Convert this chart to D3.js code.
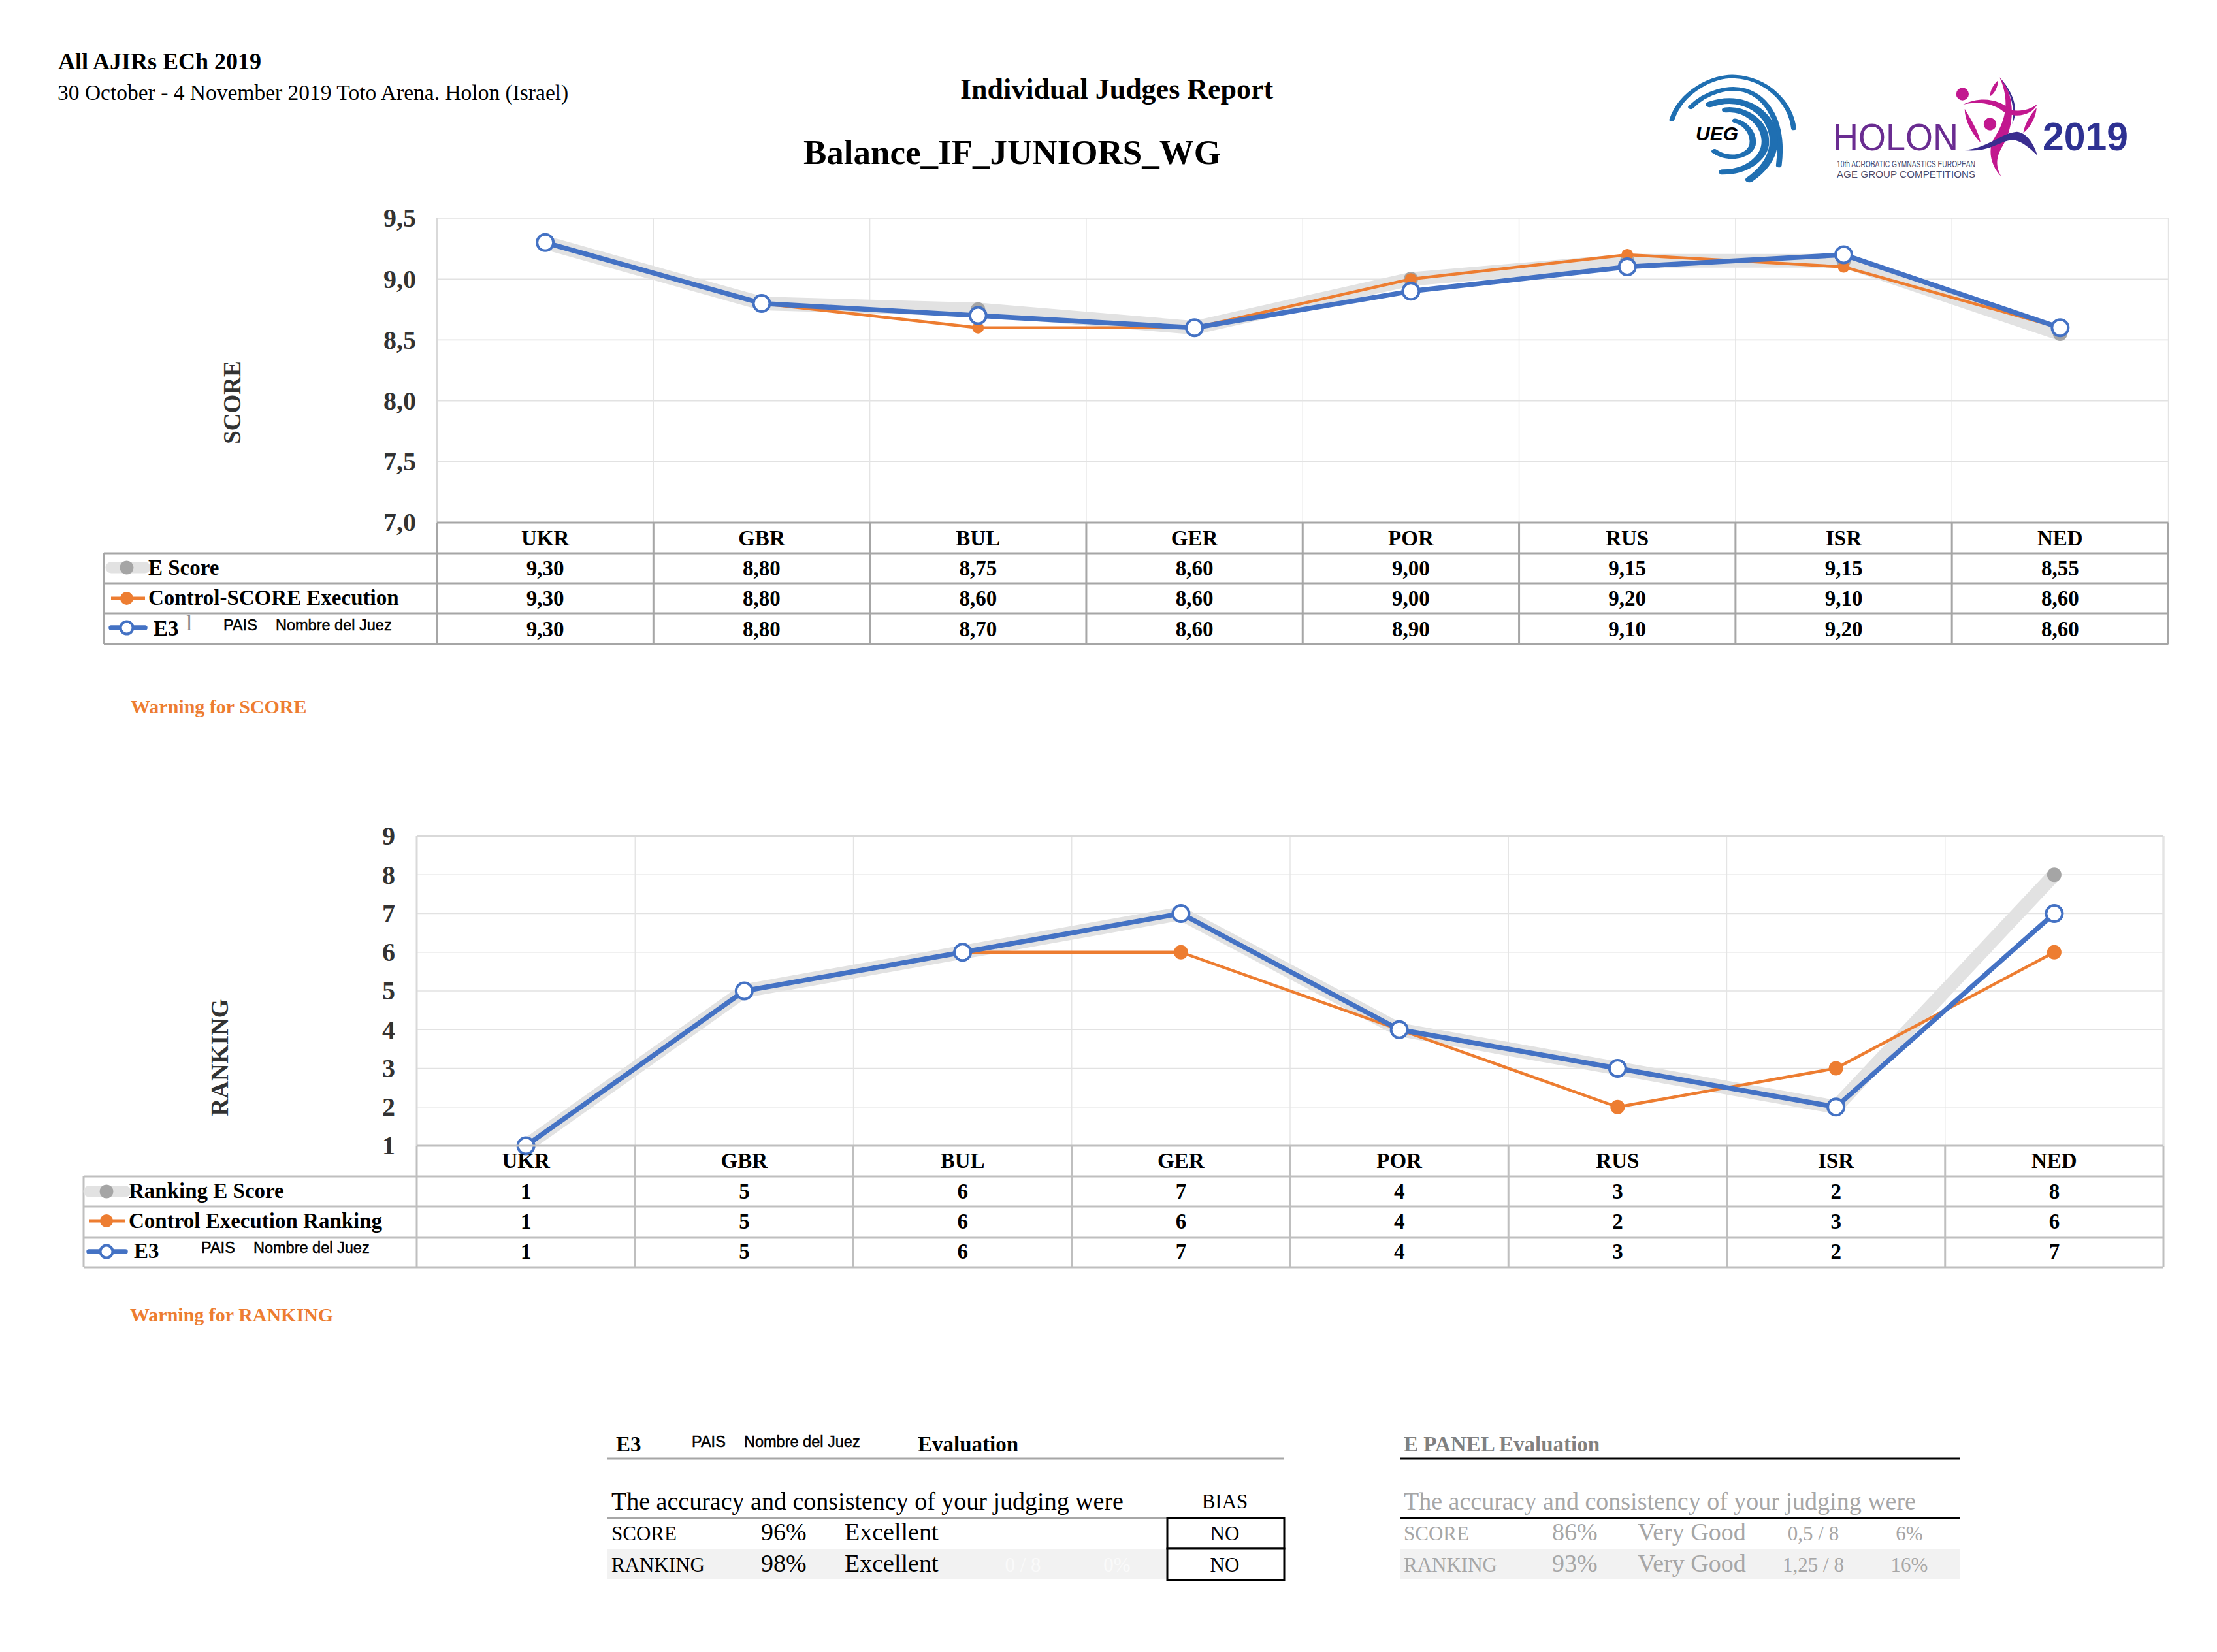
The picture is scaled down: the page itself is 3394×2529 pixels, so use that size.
<!DOCTYPE html>
<html>
<head>
<meta charset="utf-8">
<script src="https://cdn.jsdelivr.net/npm/d3@7"></script>
<style>
html,body{margin:0;padding:0;background:#fff}
svg{display:block}
text{font-family:"Liberation Serif",serif}
</style>
</head>
<body>
<svg id="c" width="3394" height="2529" viewBox="0 0 3394 2529"></svg>
<script>
const countries = ["UKR","GBR","BUL","GER","POR","RUS","ISR","NED"];
const scoreE = [9.30,8.80,8.75,8.60,9.00,9.15,9.15,8.55];
const scoreControl = [9.30,8.80,8.60,8.60,9.00,9.20,9.10,8.60];
const scoreJudge = [9.30,8.80,8.70,8.60,8.90,9.10,9.20,8.60];
const rankE = [1,5,6,7,4,3,2,8];
const rankControl = [1,5,6,6,4,2,3,6];
const rankJudge = [1,5,6,7,4,3,2,7];
const scoreTicks = [7,7.5,8,8.5,9,9.5];
const rankTicks = [1,2,3,4,5,6,7,8,9];
const judgeRows = [["SCORE","96%","Excellent"],["RANKING","98%","Excellent"]];
const panelRows = [["SCORE","86%","Very Good","0,5 / 8","6%"],["RANKING","93%","Very Good","1,25 / 8","16%"]];
const biasValues = ["NO","NO"];

const C = {blue:"#4472c4",orange:"#ed7d31",grey:"#a5a5a5",band:"#e2e2e2"};
const svg = d3.select("#c");

function txt(s,x,y,size,opt={}){
  const t = svg.append("text").attr("x",x).attr("y",y).attr("font-size",size).text(s)
    .attr("fill",opt.fill||"#000").attr("font-weight",opt.bold?"bold":"normal")
    .attr("text-anchor",opt.anchor||"start");
  if(opt.sans) t.style("font-family",'"Liberation Sans",sans-serif');
  if(opt.italic) t.attr("font-style","italic");
  return t;
}

// page heading
txt("All AJIRs ECh 2019",89,106,36,{bold:true});
txt("30 October - 4 November 2019 Toto Arena. Holon (Israel)",88,153,33.5);
txt("Individual Judges Report",1470,151,44,{bold:true});
txt("Balance_IF_JUNIORS_WG",1230,251,53,{bold:true});

function chart(cfg){
  const g = svg.append("g");
  const x = d3.scaleBand().domain(countries).range([cfg.left,cfg.right]);
  const y = d3.scaleLinear().domain(cfg.domain).range([cfg.bottom,cfg.top]);
  const cx = d => x(d)+x.bandwidth()/2;

  // grid
  g.append("g").selectAll("line").data(cfg.ticks).join("line")
    .attr("x1",cfg.left).attr("x2",cfg.right).attr("y1",d=>y(d)).attr("y2",d=>y(d))
    .attr("stroke","#e2e2e2").attr("stroke-width",1.6);
  g.append("g").selectAll("line").data(countries.slice(1).concat(["__end"])).join("line")
    .attr("x1",d=>d==="__end"?cfg.right:x(d)).attr("x2",d=>d==="__end"?cfg.right:x(d))
    .attr("y1",cfg.top).attr("y2",cfg.bottom)
    .attr("stroke","#e4e4e4").attr("stroke-width",d=>d==="__end"?cfg.edge:1.4);
  g.append("line").attr("x1",cfg.left).attr("x2",cfg.left).attr("y1",cfg.top).attr("y2",cfg.bottom)
    .attr("stroke","#d9d9d9").attr("stroke-width",3);
  if(cfg.edge>2) g.append("line").attr("x1",cfg.left).attr("x2",cfg.right).attr("y1",cfg.top).attr("y2",cfg.top)
    .attr("stroke","#d9d9d9").attr("stroke-width",4);

  // value axis
  const axis = d3.axisLeft(y).tickValues(cfg.ticks).tickSize(0).tickPadding(cfg.pad).tickFormat(cfg.fmtAxis);
  const ag = g.append("g").attr("transform",`translate(${cfg.left},0)`).call(axis);
  ag.select(".domain").remove();
  ag.selectAll("text").attr("font-size",40).attr("fill","#333").attr("font-weight","bold")
    .style("font-family",'"Liberation Serif",serif');

  // axis title
  svg.append("text").attr("transform",`translate(${cfg.titleX},${cfg.titleY}) rotate(-90)`)
    .attr("text-anchor","middle").attr("font-size",cfg.titleSize).attr("font-weight","bold").attr("fill","#333").text(cfg.title);

  // lines
  const line = d3.line().x((d,i)=>cx(countries[i])).y(d=>y(d));
  const draw = (vals,col,w)=>g.append("path").datum(vals).attr("d",line).attr("fill","none")
    .attr("stroke",col).attr("stroke-width",w).attr("stroke-linejoin","round");
  draw(cfg.series[0],C.band,21);
  g.append("g").selectAll("circle").data(cfg.series[0]).join("circle")
    .attr("cx",(d,i)=>cx(countries[i])).attr("cy",d=>y(d)).attr("r",11).attr("fill",C.grey);
  draw(cfg.series[1],C.orange,4.5);
  g.append("g").selectAll("circle").data(cfg.series[1]).join("circle")
    .attr("cx",(d,i)=>cx(countries[i])).attr("cy",d=>y(d)).attr("r",cfg.orangeR).attr("fill",C.orange);
  draw(cfg.series[2],C.blue,7.5);
  g.append("g").selectAll("circle").data(cfg.series[2]).join("circle")
    .attr("cx",(d,i)=>cx(countries[i])).attr("cy",d=>y(d)).attr("r",12.5)
    .attr("fill","#fff").attr("stroke",C.blue).attr("stroke-width",4);

  // data table
  const T = cfg.table;
  const tc = cfg.borderColor;
  const hl = (y0,x0,x1)=>g.append("line").attr("x1",x0).attr("x2",x1).attr("y1",y0).attr("y2",y0).attr("stroke",tc).attr("stroke-width",3.2);
  hl(cfg.bottom,cfg.left,cfg.right);
  T.lines.forEach(v=>hl(v,T.left,cfg.right));
  const lastLine = T.lines[T.lines.length-1];
  g.append("g").selectAll("line").data(countries.concat(["__end"])).join("line")
    .attr("x1",d=>d==="__end"?cfg.right:x(d)).attr("x2",d=>d==="__end"?cfg.right:x(d))
    .attr("y1",cfg.bottom).attr("y2",lastLine).attr("stroke",tc).attr("stroke-width",3);
  g.append("line").attr("x1",T.left).attr("x2",T.left).attr("y1",T.lines[0]).attr("y2",lastLine).attr("stroke",tc).attr("stroke-width",3);

  g.append("g").selectAll("text").data(countries).join("text")
    .attr("x",d=>cx(d)).attr("y",T.headY).attr("text-anchor","middle").attr("font-size",33).attr("font-weight","bold").text(d=>d);
  cfg.series.forEach((vals,r)=>{
    g.append("g").selectAll("text").data(vals).join("text")
      .attr("x",(d,i)=>cx(countries[i])).attr("y",T.rowY[r]).attr("text-anchor","middle")
      .attr("font-size",33).attr("font-weight","bold").text(cfg.fmtCell);
  });

  // legend keys
  const K = cfg.key;
  g.append("line").attr("x1",K.x0).attr("x2",K.x1).attr("y1",K.y[0]).attr("y2",K.y[0]).attr("stroke",C.band).attr("stroke-width",17).attr("stroke-linecap","round");
  g.append("circle").attr("cx",K.mx).attr("cy",K.y[0]).attr("r",10.5).attr("fill",C.grey);
  g.append("line").attr("x1",K.x0).attr("x2",K.x1).attr("y1",K.y[1]).attr("y2",K.y[1]).attr("stroke",C.orange).attr("stroke-width",5);
  g.append("circle").attr("cx",K.mx).attr("cy",K.y[1]).attr("r",10).attr("fill",C.orange);
  g.append("line").attr("x1",K.x0).attr("x2",K.x1).attr("y1",K.y[2]).attr("y2",K.y[2]).attr("stroke",C.blue).attr("stroke-width",7.5).attr("stroke-linecap","round");
  g.append("circle").attr("cx",K.mx).attr("cy",K.y[2]).attr("r",9.5).attr("fill","#fff").attr("stroke",C.blue).attr("stroke-width",4);

  txt(cfg.names[0],K.tx,T.rowY[0]-1,33,{bold:true});
  txt(cfg.names[1],K.tx,T.rowY[1]-1,33,{bold:true});
  txt("E3",K.e3,T.rowY[2]-1,33,{bold:true});
  txt("PAIS",K.pais,T.rowY[2]-9,23.5,{bold:false,sans:true,fill:"#000"}).attr("stroke","#000").attr("stroke-width",.5);
  txt("Nombre del Juez",K.nombre,T.rowY[2]-9,23.5,{sans:true}).attr("stroke","#000").attr("stroke-width",.5);
}

chart({
  left:669,right:3319.5,top:334,bottom:800,domain:[7,9.5],ticks:scoreTicks,pad:32,edge:1.4,
  fmtAxis:d=>d.toFixed(1).replace(".",","),fmtCell:d=>d.toFixed(2).replace(".",","),
  series:[scoreE,scoreControl,scoreJudge],orangeR:9,
  title:"SCORE",titleX:368,titleY:616,titleSize:37,borderColor:"#a6a6a6",
  names:["E Score","Control-SCORE Execution"],
  table:{left:159,lines:[847,893,939,986],headY:835,rowY:[881,927,974]},
  key:{x0:170,x1:222,mx:194,y:[869,916,961],tx:227,e3:235,pais:342,nombre:422}
});
txt("l",285,965,33,{fill:"#888"});

chart({
  left:638,right:3312,top:1280,bottom:1754,domain:[1,9],ticks:rankTicks,pad:33,edge:3.5,
  fmtAxis:d3.format("d"),fmtCell:d3.format("d"),
  series:[rankE,rankControl,rankJudge],orangeR:11,
  title:"RANKING",titleX:349,titleY:1619,titleSize:37,borderColor:"#bfbfbf",
  names:["Ranking E Score","Control Execution Ranking"],
  table:{left:128,lines:[1801,1847,1894,1940],headY:1788,rowY:[1835,1881,1927]},
  key:{x0:136,x1:192,mx:163,y:[1824,1869,1916],tx:197,e3:205,pais:308,nombre:388}
});

txt("Warning for SCORE",200,1092,30,{bold:true,fill:C.orange});
txt("Warning for RANKING",199,2023,30,{bold:true,fill:C.orange});

// evaluation blocks
const rowBase = [2358,2406];
svg.append("rect").attr("x",929).attr("y",2371).attr("width",857).attr("height",47).attr("fill","#f2f2f2");
svg.append("rect").attr("x",2143).attr("y",2371).attr("width",857).attr("height",47).attr("fill","#f2f2f2");

txt("E3",943,2222,33,{bold:true});
txt("PAIS",1059,2215,23.5,{sans:true}).attr("stroke","#000").attr("stroke-width",.5);
txt("Nombre del Juez",1139,2215,23.5,{sans:true}).attr("stroke","#000").attr("stroke-width",.5);
txt("Evaluation",1405,2222,33,{bold:true});
svg.append("line").attr("x1",929).attr("x2",1966).attr("y1",2233).attr("y2",2233).attr("stroke","#a6a6a6").attr("stroke-width",3);
txt("The accuracy and consistency of your judging were",936,2311,38);
txt("BIAS",1875,2309,31,{anchor:"middle"});
svg.append("line").attr("x1",929).attr("x2",1787).attr("y1",2324).attr("y2",2324).attr("stroke","#a6a6a6").attr("stroke-width",3);
judgeRows.forEach((r,i)=>{
  txt(r[0],936,rowBase[i],31);
  txt(r[1],1165,rowBase[i],38);
  txt(r[2],1293,rowBase[i],38);
});
txt("0 / 8",1566,2406,31,{anchor:"middle",fill:"#fafafa"});
txt("0%",1710,2406,31,{anchor:"middle",fill:"#fafafa"});
svg.append("g").selectAll("rect").data(biasValues).join("rect")
  .attr("x",1787).attr("y",(d,i)=>i?2371:2324).attr("width",179).attr("height",(d,i)=>i?48:47)
  .attr("fill","#fff").attr("stroke","#000").attr("stroke-width",3);
svg.append("g").selectAll("text").data(biasValues).join("text")
  .attr("x",1875).attr("y",(d,i)=>rowBase[i]).attr("text-anchor","middle").attr("font-size",31).text(d=>d);

const G1="#808080",G2="#a6a6a6";
txt("E PANEL Evaluation",2149,2222,33,{bold:true,fill:G1});
svg.append("line").attr("x1",2143).attr("x2",3000).attr("y1",2233).attr("y2",2233).attr("stroke","#000").attr("stroke-width",3);
txt("The accuracy and consistency of your judging were",2149,2311,38,{fill:G2});
svg.append("line").attr("x1",2143).attr("x2",3000).attr("y1",2324).attr("y2",2324).attr("stroke","#000").attr("stroke-width",3);
panelRows.forEach((r,i)=>{
  txt(r[0],2149,rowBase[i],31,{fill:G2});
  txt(r[1],2376,rowBase[i],38,{fill:G2});
  txt(r[2],2507,rowBase[i],38,{fill:G2});
  txt(r[3],2776,rowBase[i],31,{fill:G2,anchor:"middle"});
  txt(r[4],2923,rowBase[i],31,{fill:G2,anchor:"middle"});
});

// logos (drawn in a stretched local space)
const logo = svg.append("g").attr("transform","translate(2540,90) scale(0.4847,0.3333)");
[["M40 280 C70 150 170 75 240 82 C340 90 415 200 425 320",16],
 ["M100 222 C150 150 220 125 270 145 C340 175 395 290 378 490",18],
 ["M160 210 C240 170 310 210 345 290 C380 380 360 480 285 555",26],
 ["M210 235 C270 225 330 290 335 370 C340 450 280 520 200 520",24],
 ["M240 285 C280 300 300 350 295 395 C285 450 220 470 175 425",20]
].forEach(a=>logo.append("path").attr("d",a[0]).attr("fill","none").attr("stroke","#1f6fb2").attr("stroke-width",a[1]).attr("stroke-linecap","round"));
logo.append("path").attr("d","M1075 85 C1125 160 1125 300 1085 400 C1060 460 1065 500 1080 540 C1040 480 1040 400 1060 360 C1100 270 1105 180 1075 85Z").attr("fill","#c2188f");
logo.append("path").attr("d","M1075 85 C1135 180 1130 260 1115 300 C1125 220 1110 150 1075 85Z").attr("fill","#3a2d8f");
logo.append("path").attr("d","M960 210 C1010 175 1070 180 1110 235 C1140 245 1170 235 1195 208 C1175 265 1120 275 1085 240 C1050 200 1000 195 960 210Z").attr("fill","#c2188f");
logo.append("path").attr("d","M965 420 C1040 410 1080 340 1130 335 C1165 340 1185 400 1195 445 C1160 395 1130 365 1105 375 C1070 385 1040 430 965 420Z").attr("fill","#3a2d8f");
logo.append("path").attr("d","M965 230 C990 290 1010 340 1015 385 C985 340 965 280 965 230Z").attr("fill","#c2188f");
logo.append("path").attr("d","M1192 225 C1190 270 1170 320 1150 340 C1155 300 1170 260 1192 225Z").attr("fill","#c2188f");
logo.append("path").attr("d","M1070 100 C1070 130 1060 160 1045 172 C1045 145 1055 120 1070 100Z").attr("fill","#c2188f");
logo.append("ellipse").attr("cx",958).attr("cy",162).attr("rx",20).attr("ry",29).attr("fill","#c2188f");
logo.append("ellipse").attr("cx",1045).attr("cy",300).attr("rx",20).attr("ry",29).attr("fill","#c2188f");

txt("UEG",2596,215,30,{bold:true,italic:true,sans:true});
txt("HOLON",2806,230,58,{sans:true,fill:"#6a2c91"}).attr("textLength",192).attr("lengthAdjust","spacingAndGlyphs");
txt("2019",3127,230,62,{bold:true,sans:true,fill:"#2e3192"}).attr("textLength",131).attr("lengthAdjust","spacingAndGlyphs");
txt("10th ACROBATIC GYMNASTICS EUROPEAN",2812,256,15,{sans:true,fill:"#4a4a6a"}).attr("textLength",212).attr("lengthAdjust","spacingAndGlyphs");
txt("AGE GROUP COMPETITIONS",2812,272,15,{sans:true,fill:"#4a4a6a"}).attr("textLength",212).attr("lengthAdjust","spacing");
</script>
</body>
</html>
